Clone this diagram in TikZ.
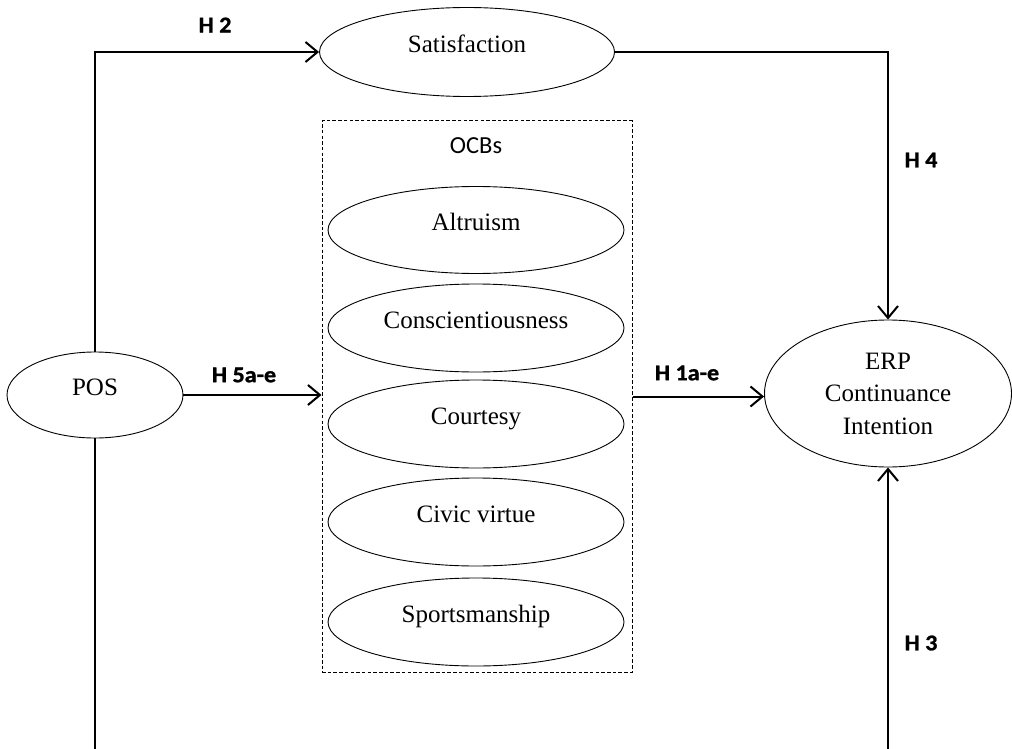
\documentclass[tikz,border=0pt]{standalone}
\usepackage{fontspec}
\setmainfont{Liberation Serif}
\newfontfamily\hfont[FakeStretch=1.07,BoldFeatures={FakeBold=1.2}]{Carlito}
\newfontfamily\ocbfont{Carlito}
\usetikzlibrary{shapes.geometric,arrows.meta}
\tikzset{
  construct/.style={draw, ellipse, line width=0.9pt, inner sep=0pt,
    font=\fontsize{25}{32.5}\selectfont, text depth=16pt},
  hyp/.style={font=\hfont\bfseries\fontsize{22.5}{24}\selectfont},
  link/.style={line width=2pt, -{Straight Barb[length=12pt,width=20pt]}},
  plain/.style={line width=2pt},
  groupbox/.style={draw, dash pattern=on 3.5pt off 2.2pt, line width=1pt, inner sep=0pt}
}
\begin{document}
\begin{tikzpicture}[x=1pt,y=-1pt]
\useasboundingbox (0,0) rectangle (1012,749);
% constructs
\node[construct, minimum width=295pt, minimum height=89pt] (sat) at (467,52) {Satisfaction};
\node[construct, minimum width=176pt, minimum height=86pt] (pos) at (95,395) {POS};
\node[draw, ellipse, line width=0.9pt, inner sep=0pt, align=center,
      font=\fontsize{25}{32.5}\selectfont,
      minimum width=247pt, minimum height=147pt] (erp) at (888,393.5)
      {ERP\\Continuance\\Intention};
% OCB group
\node[groupbox, minimum width=310pt, minimum height=551pt] (ocb) at (477,396.5) {};
\node[font=\ocbfont\fontsize{24.5}{28}\selectfont] (ocbl) at (476,146) {OCBs};
\node[construct, minimum width=296pt, minimum height=87pt] (alt) at (476,230) {Altruism};
\node[construct, minimum width=296pt, minimum height=88pt] (con) at (476,328) {Conscientiousness};
\node[construct, minimum width=296pt, minimum height=88pt] (cou) at (476,424) {Courtesy};
\node[construct, minimum width=296pt, minimum height=88pt] (civ) at (476,522) {Civic virtue};
\node[construct, minimum width=296pt, minimum height=88pt] (spo) at (476,622) {Sportsmanship};
% free ends at bottom
\coordinate (b5) at (95,749);
\coordinate (b3) at (888,749);
% connectors
\draw[link] (pos.north) |- (sat.west);
\draw[link] (sat.east) -| (erp.north);
\draw[link] (pos.east) -- (pos.east -| ocb.west);
\draw[link] (ocb.east) -- (ocb.east -| erp.west);
\draw[link] (b3) -- (erp.south);
\draw[plain] (pos.south) -- (b5);
% labels
\node[hyp] (h2) at (215,25) {H 2};
\node[hyp] (h5) at (244,375) {H 5a-e};
\node[hyp] (h1) at (687,373) {H 1a-e};
\node[hyp] (h4) at (921,160) {H 4};
\node[hyp] (h3) at (921,643) {H 3};
\end{tikzpicture}
\end{document}
